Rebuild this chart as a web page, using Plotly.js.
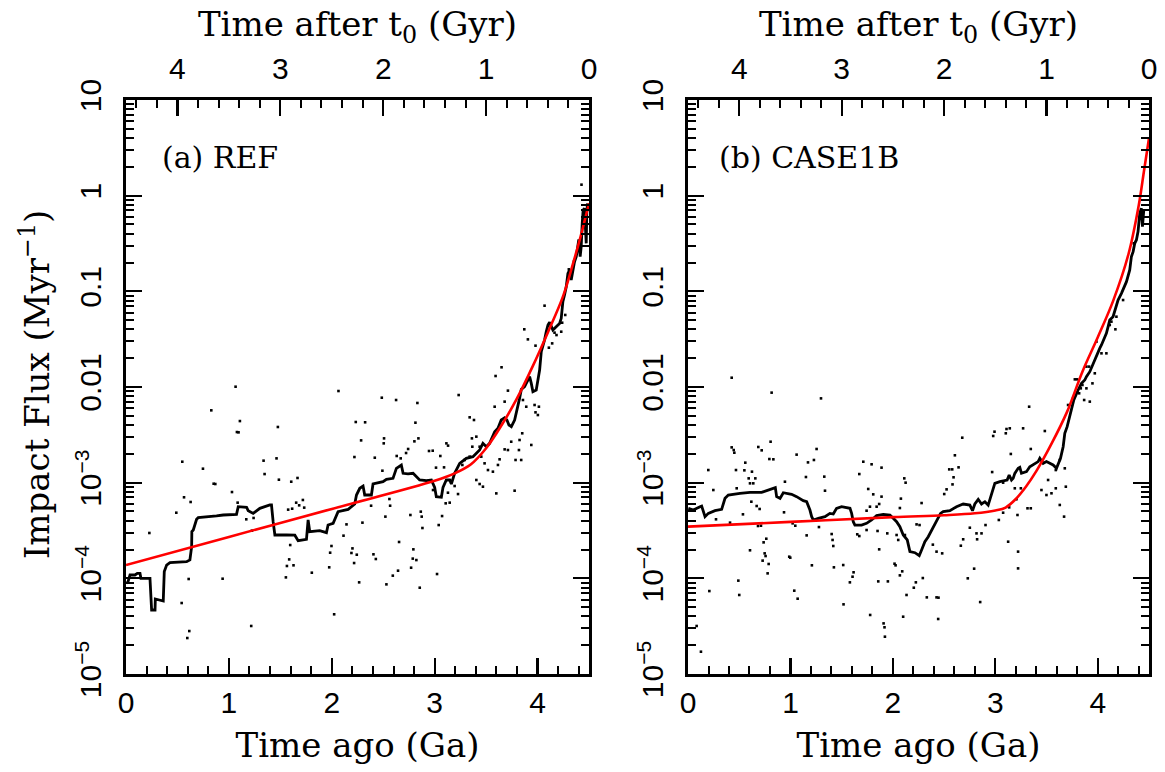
<!DOCTYPE html>
<html>
<head>
<meta charset="utf-8">
<script src="https://cdn.plot.ly/plotly-3.0.1.min.js"></script>
<style>html,body{margin:0;padding:0;background:#fff;}#chart{width:1165px;height:772px;}</style>
</head>
<body>
<div id="chart"></div>
<script>
// ---------- DATA (time in Ga ago; flux stored as log10 of Myr^-1) ----------
const bottomTicks = [0, 1, 2, 3, 4];
const topTicks = [0, 1, 2, 3, 4];
const yTickVals = [1e-5, 1e-4, 1e-3, 0.01, 0.1, 1, 10];
const yTickText = ['10<sup>\u22125</sup>', '10<sup>\u22124</sup>', '10<sup>\u22123</sup>', '0.01', '0.1', '1', '10'];
const panelLabels = ['(a) REF', '(b) CASE1B'];

// Panel (a) REF : running mean (black)
const lineA_time = [0.006,0.020,0.039,0.087,0.110,0.136,0.145,0.233,0.249,0.282,0.285,0.362,0.372,0.395,0.427,0.589,0.621,0.638,0.640,0.654,0.686,0.702,0.880,0.945,1.074,1.091,1.172,1.188,1.236,1.301,1.398,1.414,1.430,1.447,1.560,1.641,1.673,1.754,1.770,1.786,1.883,1.948,1.964,2.013,2.061,2.159,2.223,2.240,2.272,2.304,2.320,2.385,2.401,2.498,2.531,2.595,2.628,2.676,2.693,2.741,2.790,2.822,2.854,2.919,2.968,3.000,3.016,3.065,3.081,3.113,3.146,3.162,3.194,3.243,3.307,3.372,3.437,3.469,3.502,3.534,3.583,3.615,3.647,3.680,3.702,3.722,3.745,3.777,3.793,3.809,3.825,3.842,3.874,3.906,3.923,3.939,3.955,3.987,4.003,4.020,4.036,4.052,4.068,4.084,4.101,4.117,4.133,4.149,4.181,4.214,4.230,4.246,4.262,4.279,4.295,4.311,4.327,4.343,4.359,4.376,4.392,4.401,4.414,4.424,4.434,4.443,4.456,4.466,4.473,4.479,4.486];
const lineA_log = [-4.052,-4.035,-3.965,-3.965,-3.948,-3.948,-4.000,-4.000,-4.331,-4.331,-4.216,-4.237,-3.930,-3.861,-3.836,-3.826,-3.808,-3.669,-3.512,-3.495,-3.383,-3.366,-3.348,-3.338,-3.331,-3.251,-3.258,-3.293,-3.321,-3.268,-3.233,-3.233,-3.408,-3.547,-3.547,-3.549,-3.606,-3.592,-3.390,-3.512,-3.502,-3.523,-3.443,-3.425,-3.303,-3.279,-3.223,-3.129,-3.059,-3.035,-3.129,-3.129,-3.014,-2.990,-2.965,-2.955,-2.850,-2.815,-2.902,-2.909,-2.902,-2.937,-2.972,-2.979,-2.972,-3.049,-3.146,-3.153,-3.049,-2.972,-2.972,-3.014,-2.903,-2.798,-2.746,-2.728,-2.659,-2.589,-2.624,-2.589,-2.467,-2.432,-2.345,-2.321,-2.345,-2.397,-2.415,-2.345,-2.275,-2.188,-2.119,-2.025,-1.997,-1.927,-1.892,-1.962,-2.049,-2.032,-1.944,-1.823,-1.631,-1.579,-1.509,-1.422,-1.352,-1.324,-1.370,-1.404,-1.370,-1.335,-1.282,-1.108,-1.039,-0.951,-0.812,-0.777,-0.882,-0.777,-0.690,-0.638,-0.498,-0.457,-0.638,-0.533,-0.289,-0.150,-0.133,-0.289,-0.498,-0.150,-0.080];

// Panel (a) REF : fitted model (red)
const fitA_time = [0, 1, 2, 3, 3.2, 3.35, 3.5, 3.65, 3.8, 3.95, 4.1, 4.25, 4.35, 4.42, 4.5];
const fitA_log = [-3.861, -3.567, -3.274, -2.980, -2.900, -2.810, -2.640, -2.400, -2.120, -1.790, -1.430, -1.045, -0.690, -0.420, -0.080];

// Panel (a) REF : individual impacts (dots)
const dotsA_time = [1.065,2.065,2.486,2.625,2.832,0.829,1.107,2.233,2.324,2.813,1.476,1.078,1.094,2.285,2.508,2.505,2.803,2.842,2.742,2.722,2.945,2.981,0.547,0.748,1.337,1.463,2.220,2.418,2.492,2.631,2.670,3.013,3.055,3.091,3.114,3.130,1.347,0.852,0.868,1.486,1.606,1.667,0.564,0.628,1.030,1.085,0.489,1.576,1.615,1.654,1.683,1.719,1.732,1.169,1.240,1.224,0.227,2.382,2.560,2.567,2.764,2.865,2.874,2.881,3.072,3.039,2.984,3.107,2.521,2.298,2.143,2.114,1.596,1.586,1.564,1.628,1.984,1.997,1.975,2.201,2.191,2.243,2.217,2.405,2.428,2.654,2.793,2.787,2.822,2.771,2.644,2.593,2.531,2.855,3.023,1.806,1.554,2.266,2.023,0.939,0.609,0.541,0.615,0.596,1.217,
3.233,3.592,3.650,3.712,3.680,3.583,3.340,3.382,3.405,3.362,3.366,3.340,3.291,3.269,3.437,3.453,3.485,3.518,3.566,3.615,3.631,3.680,3.712,3.744,3.825,3.851,3.819,3.786,3.841,3.939,3.971,4.013,3.980,4.003,3.890,3.858,3.871,3.906,3.980,4.068,4.110,4.142,4.165,4.184,4.230,4.239,4.269,4.304,4.353,4.427,3.405,3.437,3.469,3.599,3.777,3.146,3.227,3.129,3.194];
const dotsA_log = [-1.997,-2.042,-2.112,-2.136,-2.167,-2.244,-2.356,-2.366,-2.369,-2.373,-2.418,-2.471,-2.474,-2.558,-2.537,-2.589,-2.568,-2.537,-2.648,-2.690,-2.669,-2.666,-2.781,-2.854,-2.770,-2.746,-2.732,-2.739,-2.875,-2.721,-2.746,-2.843,-2.721,-2.840,-2.589,-2.613,-2.910,-3.011,-3.014,-2.969,-2.990,-2.951,-3.153,-3.202,-3.098,-3.209,-3.314,-3.282,-3.272,-3.209,-3.237,-3.181,-3.261,-3.383,-3.369,-3.502,-3.526,-3.241,-3.171,-3.241,-3.338,-3.303,-3.355,-3.474,-3.349,-3.443,-3.077,-3.216,-3.355,-3.418,-3.436,-3.554,-3.652,-3.802,-3.871,-3.864,-3.732,-3.662,-3.885,-3.687,-3.735,-3.753,-3.840,-3.749,-3.798,-3.620,-3.697,-3.794,-3.809,-3.889,-3.920,-3.972,-4.063,-4.098,-3.955,-3.941,-3.990,-4.042,-4.376,-4.004,-4.007,-4.258,-4.551,-4.624,-4.498,
-2.084,-1.885,-1.794,-2.038,-2.153,-2.206,-2.317,-2.345,-2.519,-2.537,-2.624,-2.728,-2.763,-2.815,-2.624,-2.728,-2.798,-2.868,-2.885,-2.815,-2.756,-2.652,-2.659,-2.572,-2.554,-2.484,-2.659,-2.763,-2.763,-2.606,-2.188,-2.206,-2.265,-2.293,-2.206,-2.136,-1.397,-1.502,-1.568,-1.150,-1.589,-1.544,-1.432,-1.457,-1.422,-1.328,-1.247,-0.770,-0.690,0.115,-2.972,-3.014,-3.042,-3.112,-3.084,-3.209,-3.119,-3.105,-3.035];

// Panel (b) CASE1B : running mean (black)
const lineB_time = [0.003,0.052,0.117,0.133,0.166,0.198,0.263,0.328,0.361,0.393,0.507,0.605,0.719,0.833,0.852,0.865,0.898,0.930,1.011,1.060,1.125,1.158,1.190,1.207,1.223,1.272,1.337,1.385,1.418,1.450,1.499,1.581,1.597,1.613,1.629,1.694,1.743,1.792,1.841,1.906,1.971,2.003,2.036,2.068,2.101,2.140,2.166,2.215,2.257,2.280,2.312,2.345,2.394,2.426,2.465,2.491,2.556,2.621,2.686,2.751,2.777,2.800,2.833,2.865,2.898,2.930,2.963,2.995,3.044,3.093,3.115,3.135,3.158,3.174,3.190,3.223,3.239,3.255,3.304,3.336,3.385,3.418,3.434,3.467,3.499,3.532,3.564,3.597,3.613,3.636,3.662,3.678,3.701,3.727,3.743,3.766,3.808,3.841,3.873,3.889,3.922,3.954,3.987,4.019,4.036,4.058,4.084,4.101,4.117,4.149,4.182,4.198,4.231,4.263,4.280,4.312,4.328,4.345,4.361,4.377,4.393,4.410,4.426,4.436,4.449];
const lineB_log = [-3.268,-3.286,-3.251,-3.244,-3.356,-3.321,-3.293,-3.279,-3.164,-3.129,-3.112,-3.101,-3.101,-3.059,-3.052,-3.146,-3.164,-3.105,-3.122,-3.146,-3.188,-3.199,-3.286,-3.356,-3.390,-3.373,-3.356,-3.321,-3.328,-3.268,-3.251,-3.268,-3.321,-3.408,-3.443,-3.443,-3.425,-3.390,-3.345,-3.331,-3.338,-3.373,-3.408,-3.460,-3.547,-3.599,-3.721,-3.732,-3.763,-3.704,-3.617,-3.565,-3.460,-3.390,-3.321,-3.303,-3.293,-3.251,-3.223,-3.234,-3.293,-3.223,-3.174,-3.223,-3.199,-3.234,-3.129,-3.007,-2.990,-2.972,-2.972,-2.920,-2.972,-2.955,-2.903,-2.850,-2.840,-2.902,-2.885,-2.833,-2.798,-2.780,-2.746,-2.798,-2.780,-2.798,-2.815,-2.850,-2.798,-2.746,-2.624,-2.484,-2.415,-2.310,-2.258,-2.136,-2.031,-1.962,-1.927,-1.892,-1.840,-1.753,-1.683,-1.596,-1.561,-1.509,-1.439,-1.369,-1.300,-1.265,-1.160,-1.091,-1.021,-0.951,-0.899,-0.777,-0.638,-0.585,-0.498,-0.463,-0.376,-0.185,-0.132,-0.324,-0.150];

// Panel (b) CASE1B : fitted model (red)
const fitB_time = [0, 1, 2, 2.5, 2.8, 3.0, 3.1, 3.2, 3.3, 3.4, 3.55, 3.7, 3.85, 4.0, 4.15, 4.3, 4.4, 4.45, 4.5];
const fitB_log = [-3.460, -3.410, -3.360, -3.340, -3.320, -3.290, -3.260, -3.170, -3.040, -2.880, -2.590, -2.260, -1.840, -1.480, -1.100, -0.610, -0.100, 0.250, 0.600];

// Panel (b) CASE1B : individual impacts (dots)
const dotsB_time = [0.426,0.816,1.298,0.426,0.446,0.452,0.686,0.719,0.806,0.794,0.833,1.060,1.255,1.171,1.229,1.711,1.792,1.889,0.198,0.468,0.559,0.550,0.624,0.592,0.657,0.637,0.605,0.247,0.475,0.946,1.151,1.330,1.337,1.672,1.759,1.808,1.889,1.866,1.841,1.776,1.743,2.111,2.124,2.078,2.068,2.280,2.501,2.524,2.550,2.579,2.592,2.582,2.605,2.641,2.677,2.979,2.992,3.102,3.109,3.141,3.151,2.969,3.076,3.190,3.206,3.216,3.076,3.135,2.904,3.034,2.865,2.816,2.822,2.751,2.686,2.663,3.125,3.222,3.222,0.273,0.410,0.536,0.618,0.670,0.699,0.683,0.712,0.937,1.021,1.047,1.158,1.278,1.402,1.411,1.418,1.515,1.672,1.652,1.743,1.850,1.866,1.945,2.036,2.052,2.117,2.231,2.260,2.390,2.426,2.481,0.605,0.738,0.764,0.748,0.757,0.728,0.787,0.777,0.988,0.998,1.209,1.424,1.518,1.580,1.616,1.606,1.857,1.778,1.909,1.918,1.922,1.951,2.016,2.026,2.068,2.091,2.100,2.133,2.204,2.224,2.292,2.331,2.426,2.445,2.442,2.731,2.793,2.852,0.208,0.491,0.500,1.037,1.070,0.084,0.126,
3.271,3.330,3.483,3.346,3.249,3.515,3.590,3.629,3.678,3.450,3.499,3.548,3.590,3.688,3.629,3.671,3.314,3.346,3.710,3.759,3.776,3.798,3.818,3.834,3.850,3.867,3.889,3.922,3.948,3.971,3.889,3.915,3.987,4.036,4.084,4.133,4.172,4.117,4.182,4.247,4.351];
const dotsB_log = [-1.903,-2.059,-2.119,-2.631,-2.659,-2.687,-2.627,-2.662,-2.572,-2.753,-2.756,-2.707,-2.648,-2.788,-2.763,-2.781,-2.808,-2.843,-2.868,-2.868,-2.791,-2.871,-2.885,-2.955,-2.955,-3.007,-3.007,-3.077,-3.059,-2.990,-2.941,-2.937,-3.084,-2.910,-3.066,-3.122,-3.146,-3.223,-3.251,-3.251,-3.293,-2.955,-3.000,-3.167,-3.265,-3.213,-3.119,-3.070,-2.861,-2.861,-2.944,-3.018,-2.714,-2.840,-2.530,-2.512,-2.467,-2.484,-2.439,-2.432,-2.700,-2.889,-3.000,-3.059,-3.174,-3.338,-3.314,-3.258,-3.443,-3.390,-3.530,-3.530,-3.592,-3.471,-3.592,-3.659,-3.617,-3.896,-3.721,-3.383,-3.418,-3.331,-3.199,-3.244,-3.275,-3.453,-3.450,-3.310,-3.425,-3.450,-3.551,-3.464,-3.537,-3.599,-3.662,-3.861,-3.558,-3.540,-3.495,-3.505,-3.697,-3.530,-3.547,-3.599,-3.547,-3.436,-3.443,-3.648,-3.721,-3.739,-3.707,-3.624,-3.586,-3.739,-3.767,-3.815,-3.850,-3.948,-3.774,-3.784,-3.864,-3.885,-4.272,-4.042,-3.937,-3.983,-4.032,-4.383,-4.471,-4.512,-4.610,-4.032,-3.847,-3.864,-3.969,-3.927,-4.401,-4.174,-4.098,-4.042,-3.997,-4.199,-4.199,-4.202,-4.425,-4.000,-3.899,-4.248,-4.133,-4.024,-4.174,-4.129,-4.213,-4.498,-4.767,
-2.432,-2.206,-2.460,-2.648,-3.059,-2.972,-2.868,-2.763,-2.850,-3.077,-3.129,-3.111,-3.059,-3.042,-3.233,-3.355,-3.268,-3.268,-2.188,-2.118,-1.920,-1.920,-2.066,-2.014,-1.979,-2.136,-2.014,-2.153,-1.962,-1.857,-1.787,-1.787,-1.526,-1.648,-1.648,-1.317,-1.397,-1.352,-1.265,-1.091,-0.498];

// ---------- PLOT ----------
const toFlux = arr => arr.map(v => Math.pow(10, v));
const serif = 'DejaVu Serif, serif';
const sans = 'Liberation Sans, Arial, sans-serif';

function lineTrace(x, y, color, xa, ya, shape, w) {
  return {x: x, y: toFlux(y), xaxis: xa, yaxis: ya, type: 'scatter', mode: 'lines',
          line: {color: color, width: w, shape: shape || 'linear'}, hoverinfo: 'skip', showlegend: false};
}
function dotTrace(x, y, xa, ya) {
  return {x: x, y: toFlux(y), xaxis: xa, yaxis: ya, type: 'scatter', mode: 'markers',
          marker: {symbol: 'square', size: 2.6, color: 'black', line: {width: 0}}, hoverinfo: 'skip', showlegend: false};
}
function ghost(xa, ya) {
  return {x: [1], y: [1], xaxis: xa, yaxis: ya, type: 'scatter', mode: 'markers',
          marker: {opacity: 0}, hoverinfo: 'skip', showlegend: false};
}

const data = [
  dotTrace(dotsA_time, dotsA_log, 'x', 'y'),
  lineTrace(lineA_time, lineA_log, 'black', 'x', 'y', 'linear', 2.8),
  lineTrace(fitA_time, fitA_log, 'red', 'x', 'y', 'spline', 2.6),
  dotTrace(dotsB_time, dotsB_log, 'x2', 'y2'),
  lineTrace(lineB_time, lineB_log, 'black', 'x2', 'y2', 'linear', 2.8),
  lineTrace(fitB_time, fitB_log, 'red', 'x2', 'y2', 'spline', 2.6),
  ghost('x3', 'y'), ghost('x4', 'y2'), ghost('x', 'y3'), ghost('x2', 'y4')
];

const common = {showline: true, linecolor: 'black', linewidth: 2.6, ticks: 'inside', ticklen: 16,
  tickwidth: 2.2, tickcolor: 'black', showgrid: false, zeroline: false, fixedrange: true};
const xMinor = {dtick: 0.2, tick0: 0, ticks: 'inside', ticklen: 8, tickwidth: 2, tickcolor: 'black', showgrid: false};
const yMinor = {dtick: 'D1', ticks: 'inside', ticklen: 8, tickwidth: 2, tickcolor: 'black', showgrid: false};
const tickFont = {family: sans, size: 30, color: 'black'};
const titleFont = {family: serif, size: 34, color: 'black'};
const domA = [0, 0.4526], domB = [0.5494, 1];

function bottomAxis(dom, anchor) {
  return Object.assign({}, common, {domain: dom, anchor: anchor, range: [0, 4.5], tickmode: 'array',
    tickvals: bottomTicks, ticktext: bottomTicks.map(String), minor: xMinor, tickfont: tickFont,
    ticklabelstandoff: 0, title: {text: 'Time ago (Ga)', font: titleFont, standoff: 16}});
}
function topAxis(dom, anchor, over) {
  return Object.assign({}, common, {domain: dom, anchor: anchor, overlaying: over, side: 'top',
    range: [4.5, 0], tickmode: 'array', tickvals: topTicks, ticktext: topTicks.map(String),
    minor: xMinor, tickfont: tickFont, ticklabelstandoff: 6,
    title: {text: 'Time after t<sub>0</sub> (Gyr)', font: titleFont, standoff: 6}});
}
function leftAxis(anchor) {
  return Object.assign({}, common, {type: 'log', range: [-5, 1], domain: [0, 1], anchor: anchor,
    tickmode: 'array', tickvals: yTickVals, ticktext: yTickText, tickangle: -90, minor: yMinor,
    tickfont: tickFont, ticklabelstandoff: 10});
}
function rightAxis(anchor, over) {
  return Object.assign({}, common, {type: 'log', range: [-5, 1], domain: [0, 1], anchor: anchor,
    overlaying: over, side: 'right', tickmode: 'array', tickvals: yTickVals, showticklabels: false, minor: yMinor});
}

const layout = {
  width: 1165, height: 772,
  margin: {l: 126, r: 16, t: 100, b: 98},
  paper_bgcolor: 'white', plot_bgcolor: 'white',
  showlegend: false,
  xaxis: bottomAxis(domA, 'y'),
  xaxis2: bottomAxis(domB, 'y2'),
  xaxis3: topAxis(domA, 'y', 'x'),
  xaxis4: topAxis(domB, 'y2', 'x2'),
  yaxis: leftAxis('x'),
  yaxis2: leftAxis('x2'),
  yaxis3: rightAxis('x', 'y'),
  yaxis4: rightAxis('x2', 'y2'),
  annotations: [
    {text: 'Impact Flux (Myr<sup>\u22121</sup>)', xref: 'paper', yref: 'paper', x: -0.089, y: 0.505,
     xanchor: 'center', yanchor: 'middle', textangle: -90, showarrow: false, font: titleFont},
    {text: panelLabels[0], xref: 'paper', yref: 'paper', x: 0.033, y: 0.899, xanchor: 'left', yanchor: 'middle',
     showarrow: false, font: {family: serif, size: 30, color: 'black'}},
    {text: panelLabels[1], xref: 'paper', yref: 'paper', x: 0.5777, y: 0.899, xanchor: 'left', yanchor: 'middle',
     showarrow: false, font: {family: serif, size: 30, color: 'black'}}
  ]
};

Plotly.newPlot('chart', data, layout, {staticPlot: true, displayModeBar: false});
</script>
</body>
</html>
